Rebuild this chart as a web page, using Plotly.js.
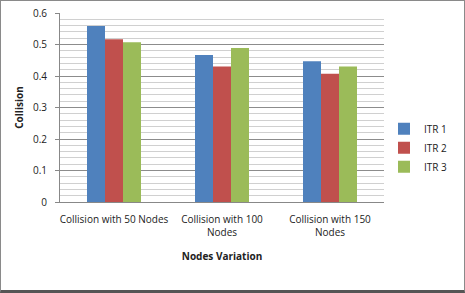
<!DOCTYPE html>
<html>
<head>
<meta charset="utf-8">
<script src="https://cdn.plot.ly/plotly-3.0.1.min.js"></script>
<style>
html,body{margin:0;padding:0;background:#fff;}
#wrap{position:relative;width:465px;height:293px;box-sizing:border-box;border:1px solid #8a8a8a;border-bottom:3px solid #555;overflow:hidden;}
#chart{position:absolute;left:-1px;top:-1px;width:465px;height:293px;}
</style>
</head>
<body>
<div id="wrap"><div id="chart"></div></div>
<script>
var categories = ["Collision with 50 Nodes", "Collision with 100<br>Nodes", "Collision with 150<br>Nodes"];
var seriesNames = ["ITR 1", "ITR 2", "ITR 3"];
var itr1 = [0.559, 0.467, 0.447];
var itr2 = [0.517, 0.430, 0.407];
var itr3 = [0.507, 0.489, 0.430];
var colors = ["#4F81BD", "#C0504D", "#9BBB59"];

var values = [itr1, itr2, itr3];
var traces = values.map(function(v, i){
  return {type:'bar', x:categories, y:v, name:seriesNames[i], marker:{color:colors[i]}};
});

var font = "Open Sans, Noto Sans, sans-serif";
var layout = {
  width:465, height:293,
  margin:{l:60, r:65, t:13, b:91},
  paper_bgcolor:'rgba(0,0,0,0)', plot_bgcolor:'#fff',
  barmode:'group', bargap:0.5, bargroupgap:0,
  font:{family:font, size:10, color:'#222'},
  showlegend:true,
  legend:{x:1.0, y:0.11, xanchor:'left', yanchor:'bottom', font:{size:10, family:font}, tracegroupgap:5, itemwidth:30, bgcolor:'rgba(0,0,0,0)'},
  xaxis:{
    showline:true, linecolor:'#888', linewidth:1, ticks:'', tickfont:{size:10, family:font},
    ticklabelstandoff:8,
    title:{text:'<b>Nodes Variation</b>', font:{size:10, family:font}, standoff:14}
  },
  yaxis:{
    range:[0,0.6], dtick:0.1, showline:true, linecolor:'#888', linewidth:1,
    ticks:'outside', ticklen:4, tickcolor:'#888', showgrid:true, gridcolor:'#8c8c8c', gridwidth:1,
    minor:{dtick:0.02, showgrid:true, gridcolor:'#d0d0d0', gridwidth:1},
    zeroline:false, tickfont:{size:10, family:font}, tickformat:'.1~f', ticklabelstandoff:6,
    title:{text:'<b>Collision</b>', font:{size:10, family:font}, standoff:7}
  }
};
Plotly.newPlot('chart', traces, layout, {displayModeBar:false, staticPlot:true});
</script>
</body>
</html>
